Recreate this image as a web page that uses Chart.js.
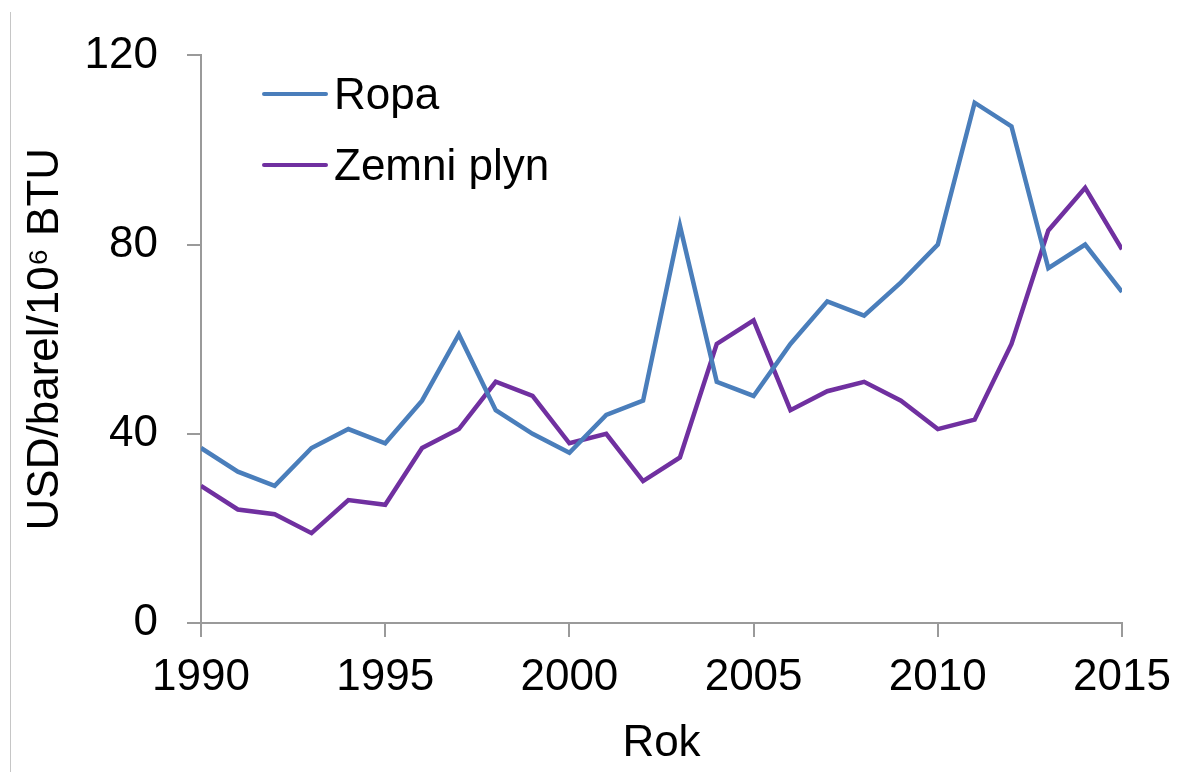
<!DOCTYPE html>
<html>
<head>
<meta charset="utf-8">
<script src="https://cdn.jsdelivr.net/npm/chart.js@4"></script>
<style>
  html, body { margin: 0; padding: 0; background: #fff; }
  .wrap { position: relative; width: 1194px; height: 772px; }
  .frame { position: absolute; left: 10px; top: 12px; bottom: 0; border-left: 1px solid #c6c6c6; }
  .legend { position: absolute; left: 262px; top: 58px; font: 44px "Liberation Sans", Arial, sans-serif; color: #000; }
  .legend div { display: flex; align-items: center; height: 71px; }
  .legend span.line { display: inline-block; width: 66px; height: 4px; border-radius: 2px; margin-right: 6px; }
</style>
</head>
<body>
<div class="wrap">
  <canvas id="chart" width="1194" height="772"></canvas>
  <div class="frame"></div>
  <div class="legend" id="legend"></div>
</div>
<script>
const years = [1990, 1991, 1992, 1993, 1994, 1995, 1996, 1997, 1998, 1999,
               2000, 2001, 2002, 2003, 2004, 2005, 2006, 2007, 2008, 2009,
               2010, 2011, 2012, 2013, 2014, 2015];
const ropa = [37, 32, 29, 37, 41, 38, 47, 61, 45, 40,
              36, 44, 47, 84, 51, 48, 59, 68, 65, 72,
              80, 110, 105, 75, 80, 70];
const zemniPlyn = [29, 24, 23, 19, 26, 25, 37, 41, 51, 48,
                   38, 40, 30, 35, 59, 64, 45, 49, 51, 47,
                   41, 43, 59, 83, 92, 79];
const seriesNames = ['Ropa', 'Zemni plyn'];
const seriesColors = ['#4a7ebb', '#7030a0'];
const yTicks = [0, 40, 80, 120];
const xTicks = [1990, 1995, 2000, 2005, 2010, 2015];

const FONT = '"Liberation Sans", Arial, sans-serif';
const axisColor = '#9a9a9a';

const toPoints = vals => vals.map((v, i) => ({ x: years[i], y: v }));

const datasets = [ropa, zemniPlyn].map((vals, i) => ({
  label: seriesNames[i],
  data: toPoints(vals),
  borderColor: seriesColors[i],
  backgroundColor: seriesColors[i],
  borderWidth: 4.5,
  pointRadius: 0,
  tension: 0,
  borderJoinStyle: 'miter'
}));

const chart = new Chart(document.getElementById('chart').getContext('2d'), {
  type: 'line',
  data: { datasets },
  options: {
    responsive: false,
    animation: false,
    layout: { padding: { left: 0, right: 72, top: 54, bottom: 0 } },
    plugins: { legend: { display: false }, tooltip: { enabled: false } },
    scales: {
      x: {
        type: 'linear',
        min: 1990,
        max: 2015,
        afterBuildTicks: s => { s.ticks = xTicks.map(v => ({ value: v })); },
        afterFit: s => { s.height = 149; },
        ticks: {
          color: '#000', font: { family: FONT, size: 44 }, padding: 14, maxRotation: 0,
          callback: v => String(v)
        },
        grid: { drawOnChartArea: false, tickLength: 14, color: axisColor, lineWidth: 2 },
        border: { color: axisColor, width: 2 },
        title: { display: true, text: 'Rok', color: '#000', font: { family: FONT, size: 44 }, padding: { top: 0, bottom: 2 } }
      },
      y: {
        min: 0,
        max: 120,
        afterBuildTicks: s => { s.ticks = yTicks.map(v => ({ value: v })); },
        afterFit: s => { s.width = 201; },
        ticks: { color: '#000', font: { family: FONT, size: 44 }, padding: 29 },
        grid: { drawOnChartArea: false, tickLength: 14, color: axisColor, lineWidth: 2 },
        border: { color: axisColor, width: 2 },
        title: { display: true, text: 'USD/barel/10\u2076 BTU', color: '#000', font: { family: FONT, size: 44 }, padding: { top: 19, bottom: 0 } }
      }
    }
  }
});

// legend in HTML so the line/text spacing matches
document.getElementById('legend').innerHTML = chart.data.datasets
  .map(d => `<div><span class="line" style="background:${d.borderColor}"></span>${d.label}</div>`)
  .join('');
</script>
</body>
</html>
